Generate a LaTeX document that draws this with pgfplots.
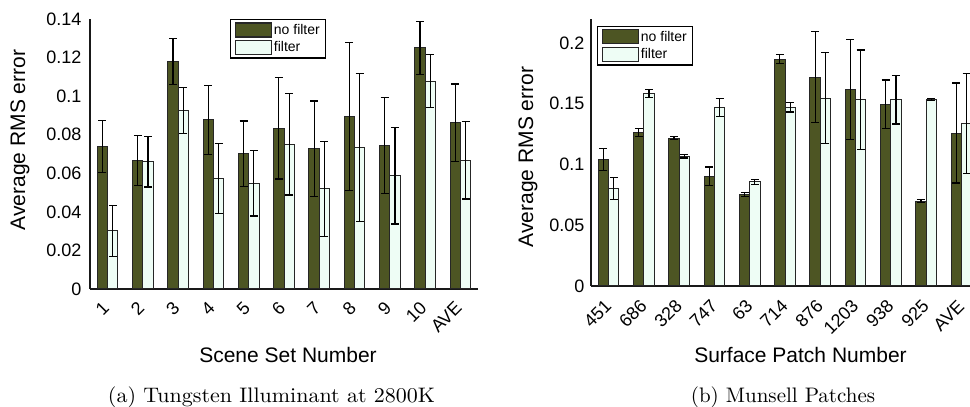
\documentclass[border=0pt]{standalone}
\usepackage{fontspec}
\usepackage{graphicx}
\usepackage{pgfplots}
\pgfplotsset{compat=1.18}
\newfontfamily\arial{Liberation Sans}
\definecolor{dark}{RGB}{77,85,35}
\definecolor{light}{RGB}{238,253,245}
\pgfplotsset{
  mybars/.style={
    ybar=0pt, bar width=10.3pt,
    scale only axis,
    axis x line*=bottom, axis y line*=left,
    axis line style={line width=1.2pt, black!90},
    major tick length=0pt,
    xmin=0.5, xtick={1,...,11},
    ymin=0, enlargelimits=false,
    xticklabel style={font=\arial\fontsize{18}{18}\selectfont, xshift=-1pt, yshift=-15pt, rotate=45, anchor=east, inner sep=1pt},
    yticklabel style={font=\arial\fontsize{18}{18}\selectfont, inner ysep=4pt},
    scaled y ticks=false,
    legend image code/.code={\draw[##1,line width=1.2pt] (0pt,-7pt) rectangle (36pt,7pt);},
    legend style={draw=black, line width=1.3pt, font=\arial\fontsize{14}{15}\selectfont,
      inner xsep=4pt, inner ysep=2.5pt, row sep=2pt, cells={anchor=west}},
    legend cell align=left,
  },
  nof/.style={fill=dark, draw=black!85, line width=1pt,
    error bars/.cd, y dir=both, y explicit,
    error bar style={line width=1.2pt, black},
    error mark options={rotate=90, mark size=4pt, line width=1.2pt, black}},
  fil/.style={fill=light, draw=black!85, line width=1pt,
    error bars/.cd, y dir=both, y explicit,
    error bar style={line width=1.2pt, black},
    error mark options={rotate=90, mark size=4pt, line width=1.2pt, black}},
}
\begin{document}
\begin{tikzpicture}[x=1pt,y=1pt]
\path[use as bounding box] (0,0) rectangle (970,407);
% ---------- (a) ----------
\begin{axis}[mybars, at={(90pt,118pt)}, anchor=south west,
  width=388pt, height=270pt, xmax=11.5, ymax=0.14,
  ytick={0,0.02,0.04,0.06,0.08,0.1,0.12,0.14},
  yticklabels={0,0.02,0.04,0.06,0.08,0.1,0.12,0.14},
  yticklabel style={inner xsep=8.5pt},
  xticklabels={1,2,3,4,5,6,7,8,9,10,AVE},
  legend style={at={(0.361,1)}, anchor=north west}]
\addplot[nof] coordinates {
 (1,0.0739) +- (0,0.0134) (2,0.0665) +- (0,0.013) (3,0.1179) +- (0,0.012)
 (4,0.0877) +- (0,0.018) (5,0.0701) +- (0,0.017) (6,0.0834) +- (0,0.0264)
 (7,0.0727) +- (0,0.0248) (8,0.0893) +- (0,0.0384) (9,0.0744) +- (0,0.025)
 (10,0.1251) +- (0,0.0138) (11,0.0862) +- (0,0.0201)};
\addplot[fil] coordinates {
 (1,0.0301) +- (0,0.0133) (2,0.0659) +- (0,0.013) (3,0.0926) +- (0,0.012)
 (4,0.0573) +- (0,0.018) (5,0.0548) +- (0,0.017) (6,0.0751) +- (0,0.0264)
 (7,0.0519) +- (0,0.0247) (8,0.0734) +- (0,0.0384) (9,0.0587) +- (0,0.025)
 (10,0.1078) +- (0,0.0138) (11,0.0668) +- (0,0.0201)};
\legend{no filter, filter}
\end{axis}
% ---------- (b) ----------
\begin{axis}[mybars, at={(591pt,121pt)}, anchor=south west,
  width=379pt, height=267.3pt, xmax=11.245, ymax=0.22,
  ytick={0,0.05,0.1,0.15,0.2},
  yticklabels={0,0.05,0.1,0.15,0.2},
  yticklabel style={inner xsep=6.5pt},
  xticklabels={451,686,328,747,63,714,876,1203,938,925,AVE},
  xticklabel style={yshift=-2pt},
  legend style={at={(0.016,0.973)}, anchor=north west}]
\addplot[nof] coordinates {
 (1,0.1042) +- (0,0.0092) (2,0.1262) +- (0,0.0033) (3,0.1218) +- (0,0.0012)
 (4,0.0902) +- (0,0.0078) (5,0.0752) +- (0,0.0016) (6,0.1868) +- (0,0.0039)
 (7,0.172) +- (0,0.0376) (8,0.1616) +- (0,0.041) (9,0.1495) +- (0,0.02)
 (10,0.0699) +- (0,0.001) (11,0.1259) +- (0,0.0411)};
\addplot[fil] coordinates {
 (1,0.0804) +- (0,0.009) (2,0.1583) +- (0,0.0033) (3,0.1067) +- (0,0.0014)
 (4,0.1468) +- (0,0.0075) (5,0.0856) +- (0,0.002) (6,0.147) +- (0,0.0038)
 (7,0.1547) +- (0,0.0377) (8,0.1533) +- (0,0.041) (9,0.1533) +- (0,0.02)
 (10,0.1533) +- (0,0.0008) (11,0.1339) +- (0,0.0413)};
\legend{no filter, filter}
\end{axis}
% ---------- labels ----------
\node[font=\arial\fontsize{21}{21}\selectfont, rotate=90] at (20,267) {Average RMS error};
\node[font=\arial\fontsize{21}{21}\selectfont, rotate=90] at (528,250) {Average RMS error};
\node[font=\arial\fontsize{21}{21}\selectfont, anchor=base] at (288,44) {Scene Set Number};
\node[font=\arial\fontsize{21}{21}\selectfont, anchor=base] at (800.5,44) {Surface Patch Number};
\node[anchor=base, inner sep=0pt] at (271.5,4) {\scalebox{2.2}[2.1]{\fontsize{10}{12}\selectfont (a) Tungsten Illuminant at 2800K}};
\node[anchor=base, inner sep=0pt] at (783,4) {\scalebox{2.1}{\fontsize{10}{12}\selectfont (b) Munsell Patches}};
\end{tikzpicture}
\end{document}
